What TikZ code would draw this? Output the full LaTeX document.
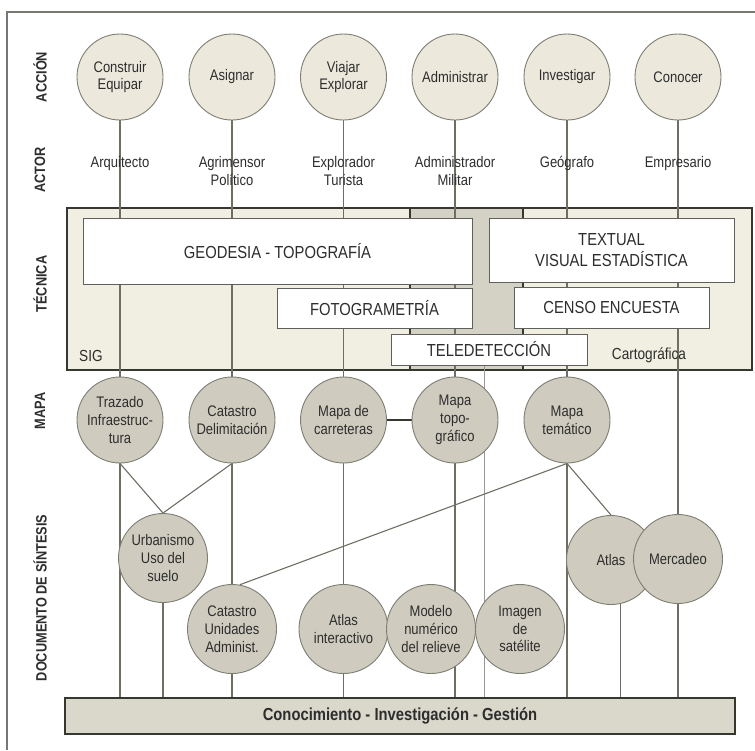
\documentclass[tikz,border=0pt]{standalone}
\usepackage{fontspec}
\setmainfont{Liberation Sans}[FakeStretch=0.85]
\definecolor{txtc}{RGB}{45,45,45}
\definecolor{circc}{RGB}{125,125,115}
\definecolor{topf}{RGB}{236,233,220}
\definecolor{mapf}{RGB}{207,204,191}
\definecolor{bandf}{RGB}{241,239,226}
\definecolor{midf}{RGB}{212,209,197}
\definecolor{barf}{RGB}{218,215,203}
\definecolor{linec}{RGB}{110,110,100}
\definecolor{darkc}{RGB}{55,55,50}
\definecolor{framec}{RGB}{120,120,115}
\pgfdeclarelayer{bg}
\pgfdeclarelayer{lines}
\pgfsetlayers{bg,lines,main}
\begin{document}
\begin{tikzpicture}[x=1pt,y=-1pt,
  txt/.style={text=txtc, font=\fontsize{15.3}{17.8}\selectfont, align=center},
  acc/.style={circle, draw=circc, line width=0.9pt, fill=topf, minimum size=86pt, inner sep=0pt, txt},
  mapc/.style={acc, fill=mapf},
  docc/.style={acc, fill=mapf, minimum size=89pt},
  actor/.style={txt, anchor=north, inner sep=0pt},
  tbox/.style={draw=darkc!80, line width=0.9pt, fill=white, text=txtc, font=\fontsize{17.4}{21.5}\selectfont, align=center, inner sep=0pt},
  side/.style={rotate=90, text=txtc, font=\bfseries\fontsize{15}{16}\selectfont},
  conn/.style={draw=linec, line width=1.1pt},
  thinconn/.style={draw=linec!70, line width=0.7pt},
  bandtxt/.style={text=txtc, font=\fontsize{16}{18}\selectfont, inner sep=0pt},
]
\useasboundingbox (0,0) rectangle (755,750);
% outer frame (only top and left edges visible)
\draw[framec, line width=1.2pt] (7,750) -- (7,12) -- (755,12);

% side labels
\node[side] (lacc) at (40,77) {ACCIÓN};
\node[side] (lact) at (40,170) {ACTOR};
\node[side] (ltec) at (40,284) {TÉCNICA};
\node[side] (lmap) at (40,411) {MAPA};
\node[side] (ldoc) at (40,598) {DOCUMENTO DE SÍNTESIS};

% action circles
\node[acc] (a1) at (120,77) {Construir\\Equipar};
\node[acc] (a2) at (232,77) {Asignar};
\node[acc] (a3) at (343.5,77) {Viajar\\Explorar};
\node[acc] (a4) at (455,77) {Administrar};
\node[acc] (a5) at (567,77) {Investigar};
\node[acc] (a6) at (678,77) {Conocer};

% actors
\node[actor] (r1) at (120,156) {Arquitecto};
\node[actor] (r2) at (232,156) {Agrimensor\\Político};
\node[actor] (r3) at (343.5,156) {Explorador\\Turista};
\node[actor] (r4) at (455,156) {Administrador\\Militar};
\node[actor] (r5) at (567,156) {Geógrafo};
\node[actor] (r6) at (678,156) {Empresario};

% technique band
\begin{pgfonlayer}{bg}
\node[fill=bandf, minimum width=685pt, minimum height=162pt, inner sep=0pt] (band) at (409.5,289) {};
\fill[midf] (410,208) rectangle (523,370);
\draw[darkc, line width=1.6pt] (band.north west) rectangle (band.south east);
\draw[darkc, line width=1.6pt] (410,208) -- (410,370);
\draw[darkc, line width=1.6pt] (523,208) -- (523,370);
\end{pgfonlayer}
\node[tbox, minimum width=389pt, minimum height=66pt] (geo) at (277.5,251) {GEODESIA - TOPOGRAFÍA};
\node[tbox, minimum width=245pt, minimum height=64pt] (tex) at (611.5,250) {TEXTUAL\\VISUAL ESTADÍSTICA};
\node[tbox, minimum width=195pt, minimum height=40pt] (foto) at (374.5,308) {FOTOGRAMETRÍA};
\node[tbox, minimum width=195pt, minimum height=41pt] (censo) at (611.5,307.5) {CENSO ENCUESTA};
\node[tbox, minimum width=196pt, minimum height=31pt] (tele) at (489,349.5) {TELEDETECCIÓN};
\node[bandtxt, anchor=west] (sig) at (79,356) {SIG};
\node[bandtxt] (carto) at (649,355) {Cartográfica};

% map circles
\node[mapc] (m1) at (120,420) {Trazado\\Infraestruc-\\tura};
\node[mapc] (m2) at (232,420) {Catastro\\Delimitación};
\node[mapc] (m3) at (343.5,420) {Mapa de\\carreteras};
\node[mapc] (m4) at (455,420) {Mapa\\topo-\\gráfico};
\node[mapc] (m5) at (567,420) {Mapa\\temático};

% synthesis documents
\node[docc] (urb) at (163,558) {Urbanismo\\Uso del\\suelo};
\node[docc] (cu) at (232,629) {Catastro\\Unidades\\Administ.};
\node[docc] (ai) at (343.5,629) {Atlas\\interactivo};
\node[docc] (mod) at (431,629) {Modelo\\numérico\\del relieve};
\node[docc] (img) at (520,629) {Imagen\\de\\satélite};
\node[docc] (atl) at (611,560) {Atlas};
\node[docc] (mer) at (678,559) {Mercadeo};

% bottom bar
\node[draw=darkc, line width=1.4pt, fill=barf, minimum width=670pt, minimum height=36pt, inner sep=0pt,
      text=txtc, font=\bfseries\fontsize{17.4}{19}\selectfont] (bar) at (400,716) {Conocimiento - Investigación - Gestión};

\coordinate (tl) at (484,365);

% connectors
\begin{pgfonlayer}{lines}
\draw[conn] (a1) -- (m1);
\draw[conn] (a2) -- (m2);
\draw[conn] (a3) -- (m3);
\draw[conn] (a4) -- (m4);
\draw[conn] (a5) -- (m5);
\draw[conn] (a6) -- (mer);
\draw[conn, draw=darkc, line width=1.6pt] (m3) -- (m4);
\draw[conn] (m1) -- (m1 |- bar.north);
\draw[conn] (m1.south) -- (urb.north);
\draw[conn] (m2.south) -- (urb.north);
\draw[conn] (urb) -- (urb |- bar.north);
\draw[conn] (m2) -- (cu);
\draw[conn] (cu) -- (cu |- bar.north);
\draw[conn] (m3) -- (ai);
\draw[conn] (ai) -- (ai |- bar.north);
\draw[conn] (m4) -- (m4 |- bar.north);
\draw[thinconn] (tl) -- (tl |- bar.north);
\draw[conn] (m5) -- (m5 |- bar.north);
\draw[conn] (m5.south) -- (cu.80);
\draw[conn] (m5.south) -- (atl.north);
\draw[conn] (atl.-78) -- (atl.-78 |- bar.north);
\draw[conn] (mer) -- (mer |- bar.north);
\end{pgfonlayer}
\end{tikzpicture}
\end{document}
